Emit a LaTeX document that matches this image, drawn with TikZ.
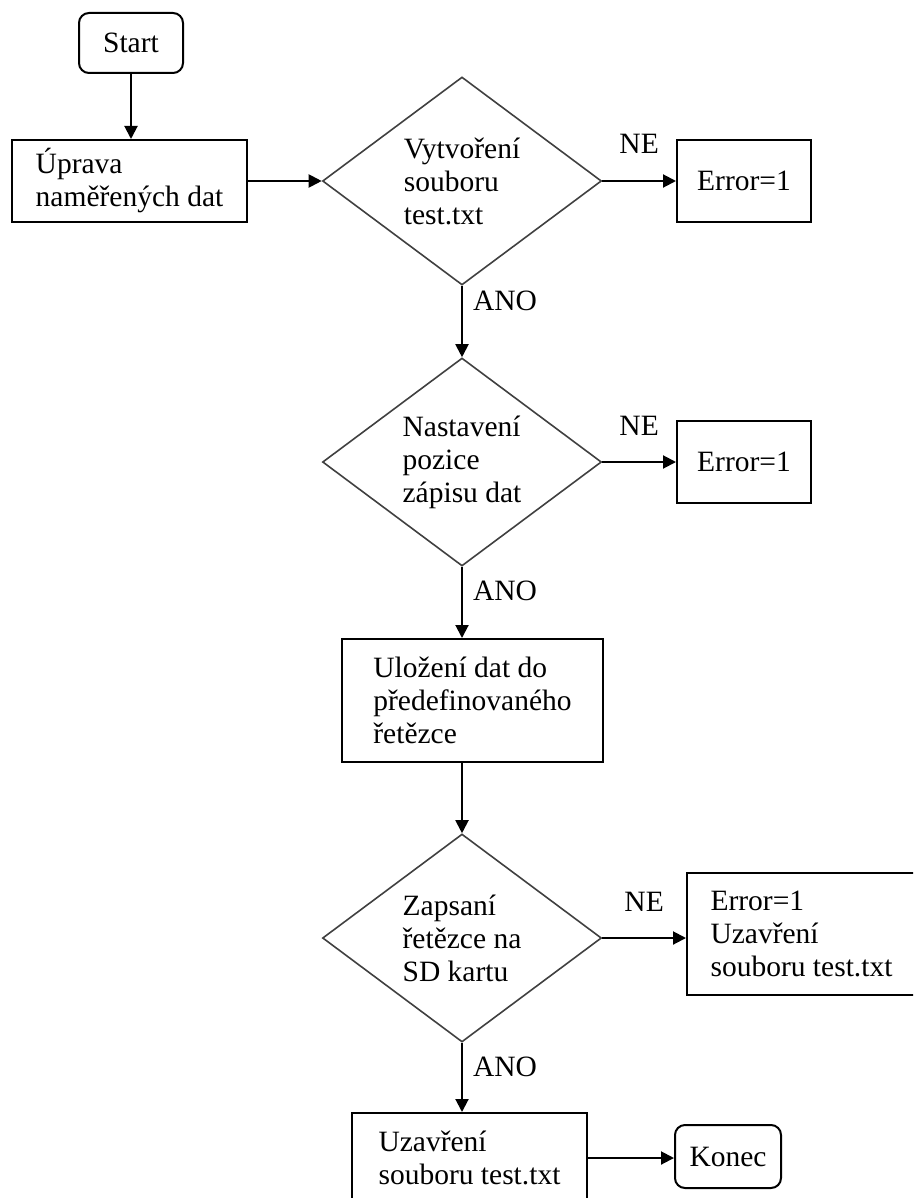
\documentclass[tikz,border=0pt]{standalone}
\usepackage{fontspec}
\setmainfont{Liberation Serif}
\usetikzlibrary{arrows.meta,positioning,shapes.geometric}

\begin{document}
\begin{tikzpicture}[
  x=1pt, y=-1pt,
  font=\fontsize{29.5}{33}\selectfont,
  term/.style={draw, line width=2pt, rounded corners=10pt, inner sep=0pt},
  box/.style={draw, line width=2pt, inner sep=0pt, align=left},
  dec/.style={diamond, draw=black!75, line width=1.6pt, aspect=1.34, inner sep=0pt,
              align=left, minimum width=279pt, minimum height=208pt},
  lf/.style={-{Triangle[length=13pt, width=13pt]}, line width=2pt},
  ne/.style={above=26pt, inner sep=0pt},
  ano/.style={anchor=south west, inner sep=0pt, xshift=10pt},
]
\useasboundingbox (0,0) rectangle (913,1198);
\clip (0,0) rectangle (913,1198);
\node[term, minimum width=104pt, minimum height=60pt] (start) at (131,43) {Start};
\node[box, minimum width=235pt, minimum height=82pt] (upr) at (129.5,181) {Úprava\\naměřených dat};
\node[dec] (vyt) at (462,181) {Vytvoření\\souboru\\test.txt};
\node[box, minimum width=134pt, minimum height=82pt] (err1) at (744,181) {Error=1};
\node[dec] (nas) at (462,462) {Nastavení\\pozice\\zápisu dat};
\node[box, minimum width=134pt, minimum height=82pt] (err2) at (744,462) {Error=1};
\node[box, minimum width=261pt, minimum height=123pt] (ulo) at (472.5,700.5)
   {Uložení dat do\\předefinovaného\\řetězce};
\node[dec] (zap) at (462,938) {Zapsaní\\řetězce na\\SD kartu};
\node[box, minimum width=229pt, minimum height=122pt] (err3) at (801.5,934)
   {Error=1\\Uzavření\\souboru test.txt};
\node[box, minimum width=235pt, minimum height=90pt] (uza) at (469.5,1158)
   {Uzavření\\souboru test.txt};
\node[term, minimum width=106pt, minimum height=63pt] (kon) at (728,1156.5) {Konec};
\draw[lf] (start.south) -- (start.south |- upr.north);
\draw[lf] (upr.east) -- (vyt.west);
\draw[lf] (vyt.east) -- node[ne]{NE} (vyt.east -| err1.west);
\draw[lf] (vyt.south) -- node[ano, pos=0.37]{ANO} (nas.north);
\draw[lf] (nas.east) -- node[ne]{NE} (nas.east -| err2.west);
\draw[lf] (nas.south) -- node[ano, pos=0.49]{ANO} (nas.south |- ulo.north);
\draw[lf] (nas.south |- ulo.south) -- (zap.north);
\draw[lf] (zap.east) -- node[ne]{NE} (zap.east -| err3.west);
\draw[lf] (zap.south) -- node[ano, pos=0.5]{ANO} (zap.south |- uza.north);
\draw[lf] (uza.east) -- (uza.east -| kon.west);
\end{tikzpicture}
\end{document}
